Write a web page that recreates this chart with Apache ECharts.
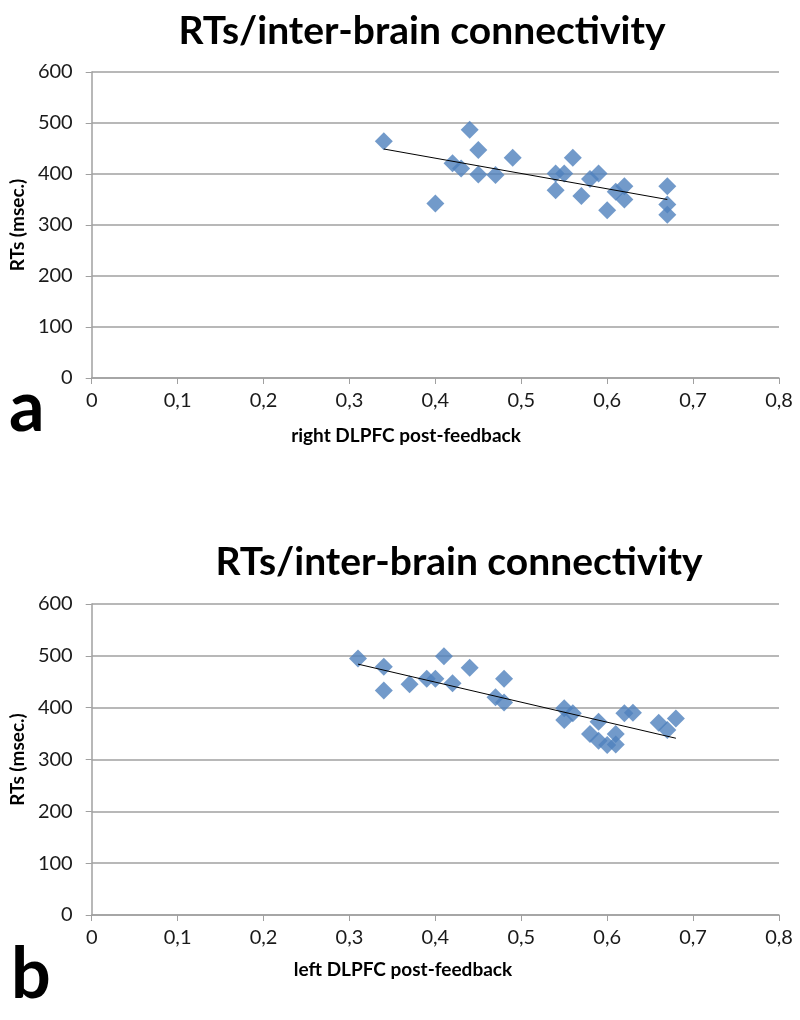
<!DOCTYPE html>
<html>
<head>
<meta charset="utf-8">
<script src="https://cdn.jsdelivr.net/npm/echarts@6/dist/echarts.min.js"></script>
<style>html,body{margin:0;padding:0;background:#fff}#c{width:800px;height:1020px}</style>
</head>
<body>
<div id="c"></div>
<script>
// ---- data ----
const chartTitle = 'RTs/inter-brain connectivity';
const yAxisName = 'RTs (msec.)';
const xNameA = 'right DLPFC post-feedback';
const xNameB = 'left DLPFC post-feedback';
const panelLetters = ['a', 'b'];
const xTickLabels = ['0', '0,1', '0,2', '0,3', '0,4', '0,5', '0,6', '0,7', '0,8'];
const yTickLabels = ['0', '100', '200', '300', '400', '500', '600'];

// panel a: right DLPFC
const xA = [0.34, 0.44, 0.45, 0.42, 0.43, 0.40, 0.45, 0.47, 0.49, 0.54, 0.54, 0.55, 0.56, 0.57, 0.58, 0.59, 0.60, 0.61, 0.62, 0.62, 0.67, 0.67, 0.67];
const yA = [464, 487, 447, 421, 411, 342, 399, 398, 432, 401, 368, 401, 432, 357, 390, 401, 329, 365, 376, 350, 376, 340, 320];
const trendA_x = [0.34, 0.67];
const trendA_y = [449, 350];

// panel b: left DLPFC
const xB = [0.31, 0.34, 0.34, 0.37, 0.39, 0.40, 0.41, 0.42, 0.44, 0.47, 0.48, 0.48, 0.55, 0.55, 0.56, 0.59, 0.58, 0.59, 0.60, 0.61, 0.61, 0.62, 0.63, 0.66, 0.67, 0.68];
const yB = [495, 479, 433, 445, 456, 456, 499, 447, 477, 420, 410, 456, 399, 376, 389, 373, 349, 336, 328, 349, 329, 389, 390, 371, 357, 379];
const trendB_x = [0.31, 0.68];
const trendB_y = [484, 341];

// ---- chart ----
const zip = (xs, ys) => xs.map((x, i) => [x, ys[i]]);
const FONT = 'Lato, "Open Sans", sans-serif';
const BLUE = '#4F81BD';
const GRID = '#A0A0A0';

function xAxisCfg(gi) {
  return {
    type: 'value', gridIndex: gi, min: 0, max: 0.8, interval: 0.1,
    axisLine: { show: true, onZero: false, lineStyle: { color: GRID, width: 1.5 } },
    axisTick: { show: true, inside: false, length: 6, lineStyle: { color: GRID } },
    axisLabel: { fontFamily: FONT, fontSize: 20, color: '#1a1a1a', margin: 13,
      formatter: v => xTickLabels[Math.round(v * 10)] },
    splitLine: { show: false }
  };
}
function yAxisCfg(gi) {
  return {
    type: 'value', gridIndex: gi, min: 0, max: 600, interval: 100,
    name: yAxisName, nameLocation: 'middle', nameGap: 60, nameRotate: 90,
    nameTextStyle: { fontFamily: FONT, fontWeight: 'bold', fontSize: 19, color: '#000' },
    axisLine: { show: true, lineStyle: { color: GRID, width: 1.5 } },
    axisTick: { show: true, inside: false, length: 6, lineStyle: { color: GRID } },
    axisLabel: { fontFamily: FONT, fontSize: 20, color: '#1a1a1a', margin: 19,
      formatter: v => yTickLabels[Math.round(v / 100)] },
    splitLine: { show: true, lineStyle: { color: GRID, width: 1.5 } }
  };
}
const nameStyle = { fontFamily: FONT, fontWeight: 'bold', fontSize: 19, color: '#000' };
const titleStyle = { fontFamily: FONT, fontWeight: 'bold', fontSize: 39, color: '#000' };
const letterStyle = { fontFamily: FONT, fontWeight: 'bold', fontSize: 70, color: '#000' };

const chart = echarts.init(document.getElementById('c'), null, { renderer: 'canvas' });
chart.setOption({
  animation: false,
  backgroundColor: '#fff',
  title: [
    { text: chartTitle, left: 417, top: 7, textAlign: 'center', textStyle: titleStyle },
    { text: chartTitle, left: 454, top: 538, textAlign: 'center', textStyle: titleStyle },
    { text: xNameA, left: 401, top: 421, textAlign: 'center', textStyle: nameStyle },
    { text: xNameB, left: 398, top: 955, textAlign: 'center', textStyle: nameStyle },
    { text: panelLetters[0], left: 4, top: 368, textStyle: letterStyle },
    { text: panelLetters[1], left: 6, top: 935, textStyle: letterStyle }
  ],
  grid: [
    { left: 90, right: 21, top: 72, height: 306 },
    { left: 89, right: 21, top: 604, height: 311 }
  ],
  xAxis: [xAxisCfg(0), xAxisCfg(1)],
  yAxis: [yAxisCfg(0), yAxisCfg(1)],
  series: [
    { type: 'line', xAxisIndex: 0, yAxisIndex: 0, data: zip(trendA_x, trendA_y),
      showSymbol: false, lineStyle: { color: '#000', width: 1 }, z: 3 },
    { type: 'scatter', xAxisIndex: 0, yAxisIndex: 0, data: zip(xA, yA),
      symbol: 'diamond', symbolSize: 18, itemStyle: { color: BLUE }, z: 2 },
    { type: 'line', xAxisIndex: 1, yAxisIndex: 1, data: zip(trendB_x, trendB_y),
      showSymbol: false, lineStyle: { color: '#000', width: 1 }, z: 3 },
    { type: 'scatter', xAxisIndex: 1, yAxisIndex: 1, data: zip(xB, yB),
      symbol: 'diamond', symbolSize: 18, itemStyle: { color: BLUE }, z: 2 }
  ]
});
</script>
</body>
</html>
